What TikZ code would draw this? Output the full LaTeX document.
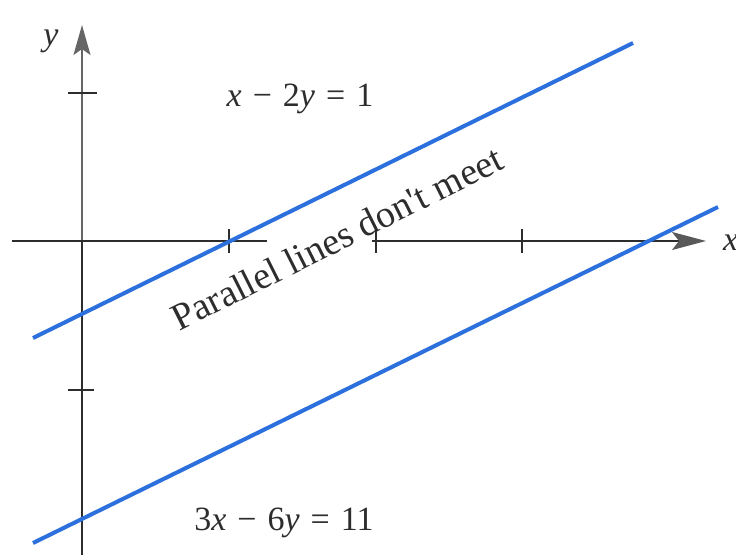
\documentclass[tikz,border=0pt]{standalone}
\usepackage{fontspec}
\setmainfont{Liberation Serif}
\newfontfamily\timesish{Liberation Serif}
\usetikzlibrary{arrows.meta}
\definecolor{lineblue}{RGB}{44,112,222}
\definecolor{ink}{RGB}{45,45,45}
\newcommand{\gp}{\hspace{11pt}}
\begin{document}
\begin{tikzpicture}[x=1pt,y=-1pt,
  axis/.style={line width=1.8pt,draw=ink},
  yaxis/.style={line width=1.8pt,draw=black!60},
  tick/.style={line width=1.6pt,draw=ink},
  graphline/.style={line width=4pt,draw=lineblue},
  lbl/.style={text=ink,inner sep=0pt,font=\timesish\fontsize{34}{36}\selectfont},
  note/.style={text=ink,inner sep=0pt,font=\timesish\fontsize{38}{40}\selectfont}]
\useasboundingbox (0,0) rectangle (736,558);
% axes
\coordinate (ybot) at (82,555);
\coordinate (ytop) at (82,25);
\coordinate (xl) at (12,241);
\coordinate (xg1) at (267,241);
\coordinate (xg2) at (372,241);
\coordinate (xr) at (706,241);
\draw[axis] (ybot) -- (82,241);
\draw[yaxis,-{Stealth[length=30pt,width=17pt,inset=6pt]}] (82,241) -- (ytop);
\draw[axis] (xl) -- (xg1);
\draw[axis,-{Stealth[length=34pt,width=18pt,inset=7pt,color=black!65,fill=black!65]}] (xg2) -- (xr);
% ticks
\foreach \tx in {229,376,522} \draw[tick] (\tx,229) -- (\tx,253);
\draw[tick] (68,93) -- (97,93);
\draw[tick] (68,390) -- (94,390);
% lines
\coordinate (a1) at (33,338);
\coordinate (a2) at (633,43);
\coordinate (b1) at (33,543);
\coordinate (b2) at (718,207);
\draw[graphline] (a1) -- (a2);
\draw[graphline] (b1) -- (b2);
% labels
\node[lbl,anchor=base] (ylab) at (51,45) {\textit{y}};
\node[lbl,anchor=base west] (xlab) at (723,250) {\textit{x}};
\node[lbl,anchor=base] (eq1) at (300,106) {\textit{x}\gp−\gp2\textit{y}\gp=\gp1};
\node[lbl,anchor=base] (eq2) at (284,530) {3\textit{x}\gp−\gp6\textit{y}\gp=\gp11};
\node[note,rotate=26.6] (par) at (337,238) {Parallel lines don\textquotesingle t meet};
\end{tikzpicture}
\end{document}
